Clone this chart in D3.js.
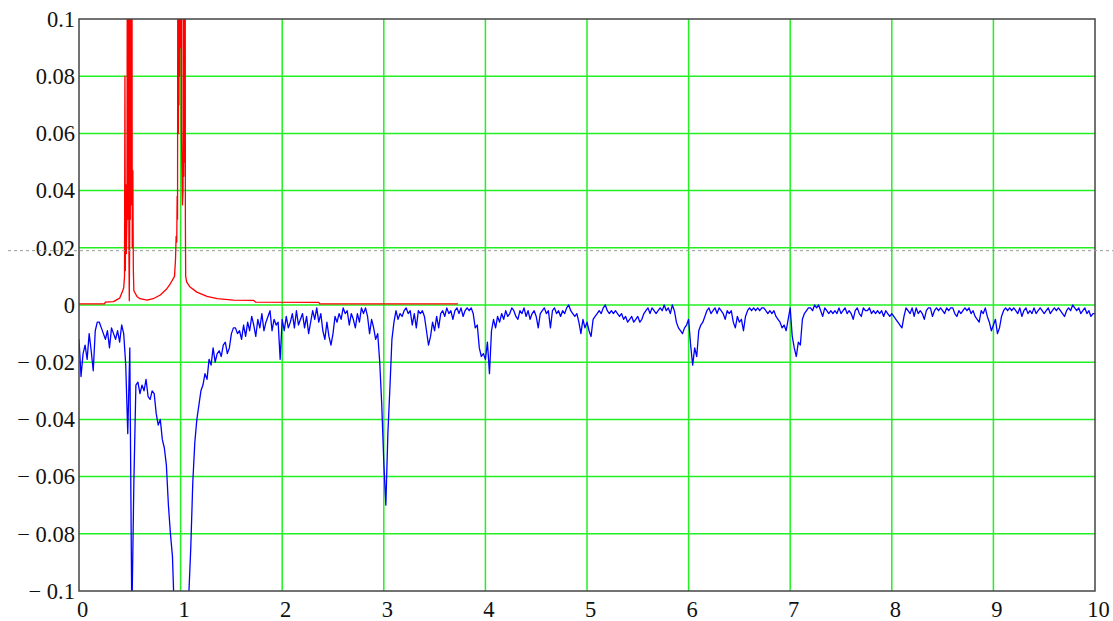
<!DOCTYPE html>
<html>
<head>
<meta charset="utf-8">
<script src="https://cdn.jsdelivr.net/npm/d3@7/dist/d3.min.js"></script>
<style>
  html, body { margin: 0; padding: 0; background: #fff; }
  svg { display: block; }
</style>
</head>
<body>
<svg id="chart" width="1113" height="621"></svg>
<script>
// ---------- data ----------
const xTicks = [0, 1, 2, 3, 4, 5, 6, 7, 8, 9, 10];
const xTickLabels = ["0", "1", "2", "3", "4", "5", "6", "7", "8", "9", "10"];
const yTicks = [0.1, 0.08, 0.06, 0.04, 0.02, 0, -0.02, -0.04, -0.06, -0.08, -0.1];
const yTickLabels = ["0.1", "0.08", "0.06", "0.04", "0.02", "0", "\u2212 0.02", "\u2212 0.04", "\u2212 0.06", "\u2212 0.08", "\u2212 0.1"];
const dashedLevel = 0.019;

// red series (values in units of 0.001)
const redX = [0, 0.25, 0.26, 0.34, 0.40, 0.43, 0.44, 0.448, 0.452, 0.456, 0.462, 0.466, 0.472,
  0.476, 0.479, 0.482, 0.485, 0.488, 0.491, 0.495, 0.499, 0.502, 0.505, 0.508, 0.511, 0.514, 0.517, 0.520, 0.524, 0.530, 0.535, 0.540,
  0.57, 0.60, 0.67, 0.73, 0.80, 0.86, 0.90, 0.94,
  0.950, 0.956, 0.962, 0.966, 0.970, 0.975, 0.978, 0.981, 0.984, 0.987, 0.990, 0.994, 1.000, 1.005, 1.008, 1.012, 1.018,
  1.024, 1.027, 1.031, 1.035, 1.039, 1.043, 1.047, 1.050,
  1.06, 1.09, 1.16, 1.26, 1.36, 1.52, 1.72, 1.74, 2.36, 2.37, 3.73];
const redMilli = [0.4, 0.4, 1.0, 1.2, 2.4, 5, 6, 10, 80, 12, 42, 18, 30,
  150, 30, 200, 40, 180, 20, 1.5, 25, 250, 30, 280, 40, 240, 35, 200, 20, 47, 12, 5,
  3, 2.2, 1.7, 2.2, 3.5, 5.5, 7.5, 10,
  16, 24, 22, 38, 30, 250, 60, 280, 70, 260, 80, 300, 90, 280, 62, 50, 35,
  40, 260, 45, 280, 50, 260, 30, 10,
  8, 6.4, 4.5, 3.0, 2.2, 1.7, 1.6, 1.0, 0.9, 0.4, 0.4];

// blue series, sampled every blueStep along x (values in units of 0.001)
const blueStep = 0.02;
const blueMilli = [
  -12,-25,-17,-14,-19,-10,-16,-23,-9,-6,      // 0.0
  -6,-8,-10,-12,-9,-15,-8,-10,-12,-9,         // 0.2
  -13,-7,-10,-21,-45,-15,-110,-62,-28,-27,    // 0.4
  -31,-28,-30,-26,-32,-33,-30,-31,-38,-42,    // 0.6
  -40,-47,-50,-56,-70,-80,-88,-110,-130,-140, // 0.8
  -140,-135,-125,-115,-102,-85,-62,-48,-40,-35, // 1.0
  -30,-28,-24,-26,-19,-21,-15,-20,-17,-16,    // 1.2
  -18,-14,-13,-17,-15,-10,-8,-8,-10,-9,       // 1.4
  -12,-7,-11,-6,-9,-4,-7,-11,-5,-8,           // 1.6
  -3,-9,-6,-4,-2,-9,-5,-7,-6,-19,             // 1.8
  -5,-9,-4,-8,-6,-3,-8,-2,-7,-5,              // 2.0
  -3,-8,-4,-10,-6,-2,-5,-1,-6,-3,             // 2.2
  -9,-12,-6,-11,-14,-10,-4,-6,-3,-5,          // 2.4
  -1,-3,-2,-7,-3,-5,-8,-3,-6,-1,              // 2.6
  -3,-1,-4,-10,-5,-8,-12,-10,-20,-35,         // 2.8
  -55,-70,-45,-29,-12,-6,-2,-5,-3,-4,         // 3.0
  -2,-1,-3,-2,-7,-3,-8,-2,-3,-2,              // 3.2
  -4,-9,-14,-11,-6,-9,-4,-8,-3,-2,            // 3.4
  -4,-1,-3,-2,-5,-2,-1,-3,-1,-4,              // 3.6
  -2,-1,-2,-1,-3,-8,-7,-15,-18,-17,           // 3.8
  -19,-13,-24,-9,-5,-8,-4,-6,-3,-5,           // 4.0
  -2,-4,-3,-1,-2,-4,-5,-2,-3,-1,              // 4.2
  -4,-2,-5,-3,-2,-4,-8,-3,-2,-1,              // 4.4
  -3,-2,-8,-2,-1,-3,-2,-4,-2,-3,              // 4.6
  -1,0,-2,-3,-4,-3,-6,-10,-5,-8,              // 4.8
  -6,-9,-11,-5,-4,-3,-2,-3,-1,0,              // 5.0
  -2,-3,-2,-3,-2,-3,-4,-3,-5,-4,              // 5.2
  -6,-5,-4,-6,-5,-4,-6,-5,-3,-2,              // 5.4
  -1,-3,-1,-2,-3,-2,-1,-2,0,-2,               // 5.6
  -1,-3,0,-2,-6,-8,-9,-10,-8,-7,              // 5.8
  -5,-14,-21,-15,-18,-9,-7,-6,-4,-2,          // 6.0
  -1,-3,-2,-1,-3,-1,-2,-3,-5,-2,              // 6.2
  -3,-2,-6,-8,-4,-6,-5,-9,-4,-2,              // 6.4
  -1,-2,-1,-2,-1,-2,-1,-1,-2,-3,              // 6.6
  -2,-3,-2,-4,-5,-6,-8,-7,-9,-5,              // 6.8
  -1,-11,-15,-18,-13,-14,-5,-3,-2,-1,         // 7.0
  -1,-2,0,-1,0,-2,-4,-1,-2,-3,                // 7.2
  -2,-3,-2,-3,-1,-3,-2,-1,-3,-2,              // 7.4
  -3,-5,-2,-1,-3,-4,-1,-2,-2,-1,              // 7.6
  -3,-2,-3,-2,-3,-2,-4,-2,-3,-4,              // 7.8
  -3,-4,-5,-6,-7,-8,-4,-1,-2,-3,              // 8.0
  -1,-4,-1,-3,-2,-3,-5,-2,-1,-1,              // 8.2
  -4,-2,-1,-2,-1,-2,-3,-1,-2,-1,              // 8.4
  -1,-3,-4,-2,-3,-2,-1,-2,-1,-3,              // 8.6
  -2,-4,-5,-6,-2,-3,-1,-4,-6,-9,              // 8.8
  -7,-5,-10,-8,-4,-2,-1,-2,-1,-2,             // 9.0
  -1,-2,-3,-1,-4,-2,-1,-3,-2,-3,              // 9.2
  -1,-3,-2,-1,-2,-3,-2,-1,-3,-2,              // 9.4
  -1,-2,-1,-2,-3,-4,-2,-1,-2,0,               // 9.6
  -1,-2,-1,-3,-2,-1,-3,-2,-4,-3,              // 9.8
  -3                                          // 10.0
];

const redData = redX.map((xv, i) => ({ x: xv, y: redMilli[i] / 1000 }));
const blueData = blueMilli.map((v, i) => ({ x: i * blueStep, y: v / 1000 }));

// ---------- layout ----------
const svg = d3.select("#chart");
const mLeft = 79, mRight = 1095, mTop = 19, mBottom = 591;
const labelFont = "Liberation Serif";

const x = d3.scaleLinear().domain([0, 10]).range([mLeft, mRight]);
const y = d3.scaleLinear().domain([-0.1, 0.1]).range([mBottom, mTop]);

svg.append("defs").append("clipPath").attr("id", "plotclip")
  .append("rect").attr("x", mLeft).attr("y", mTop).attr("width", mRight - mLeft).attr("height", mBottom - mTop);

// grid
const grid = svg.append("g");
grid.selectAll("line.v").data(xTicks.filter(d => d > 0 && d < 10)).join("line")
  .attr("class", "v")
  .attr("x1", d => x(d)).attr("x2", d => x(d)).attr("y1", mTop).attr("y2", mBottom)
  .attr("stroke", "#22f022").attr("stroke-width", 1.5);
grid.selectAll("line.h").data(yTicks.filter(d => d > -0.1 && d < 0.1)).join("line")
  .attr("class", "h")
  .attr("x1", mLeft).attr("x2", mRight).attr("y1", d => y(d)).attr("y2", d => y(d))
  .attr("stroke", "#22f022").attr("stroke-width", 1.5);

// series
const line = d3.line().x(d => x(d.x)).y(d => y(d.y));
const plot = svg.append("g").attr("clip-path", "url(#plotclip)");
plot.append("path").datum(redData).attr("d", line)
  .attr("fill", "none").attr("stroke", "#ff0000").attr("stroke-width", 1.3).attr("stroke-linejoin", "round");
plot.append("path").datum(blueData).attr("d", line)
  .attr("fill", "none").attr("stroke", "#0000ff").attr("stroke-width", 1.3).attr("stroke-linejoin", "round");

// frame
svg.append("rect").attr("x", mLeft).attr("y", mTop).attr("width", mRight - mLeft).attr("height", mBottom - mTop)
  .attr("fill", "none").attr("stroke", "#444").attr("stroke-width", 1.5);

// axes labels
const yAxis = d3.axisLeft(y).tickValues(yTicks).tickFormat((d, i) => yTickLabels[i]).tickSize(0).tickPadding(4);
const gy = svg.append("g").attr("transform", `translate(${mLeft},0)`).call(yAxis);
gy.select(".domain").remove();
gy.selectAll("text")
  .style("font-family", labelFont).style("font-size", "22.5px").style("fill", "#111");

const xAxis = d3.axisBottom(x).tickValues(xTicks).tickFormat((d, i) => xTickLabels[i]).tickSize(0).tickPadding(10);
const gx = svg.append("g").attr("transform", `translate(3,${mBottom})`).call(xAxis);
gx.select(".domain").remove();
gx.selectAll("text")
  .style("font-family", labelFont).style("font-size", "22.5px").style("fill", "#111");

// dashed reference line
svg.append("line").attr("x1", 8).attr("x2", 1113).attr("y1", y(dashedLevel)).attr("y2", y(dashedLevel))
  .attr("stroke", "#999").attr("stroke-width", 1).attr("stroke-dasharray", "3,3");
</script>
</body>
</html>
